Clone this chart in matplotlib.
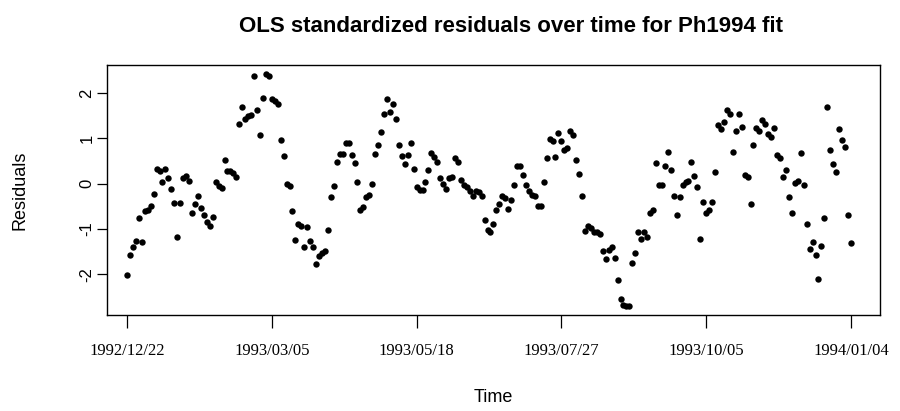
import numpy as np
import matplotlib
matplotlib.use('Agg')
import matplotlib.pyplot as plt

# 标准化残差（按观测顺序读取）
resid = [
    -2.02, -1.58, -1.41, -1.27, -0.76, -1.30, -0.61, -0.58, -0.50, -0.23,
    0.33, 0.29, 0.03, 0.33, 0.13, -0.12, -0.43, -1.17, -0.43, 0.13,
    0.16, 0.07, -0.65, -0.44, -0.28, -0.54, -0.69, -0.84, -0.93, -0.74,
    0.03, -0.06, -0.10, 0.52, 0.27, 0.27, 0.24, 0.15, 1.33, 1.69,
    1.44, 1.50, 1.51, 2.38, 1.63, 1.07, 1.90, 2.42, 2.38, 1.88,
    1.83, 1.76, 0.96, 0.61, 0.00, -0.06, -0.60, -1.24, -0.90, -0.93,
    -1.41, -0.95, -1.26, -1.41, -1.78, -1.61, -1.54, -1.48, -1.02, -0.30,
    -0.06, 0.47, 0.66, 0.66, 0.90, 0.90, 0.64, 0.46, 0.04, -0.59, -0.52, -0.30,
    -0.24, -0.01, 0.66, 0.85, 1.14, 1.53, 1.88, 1.58, 1.76, 1.44,
    0.85, 0.61, 0.44, 0.63, 0.89, 0.33, -0.08, -0.13, -0.15, 0.04, 0.31,
    0.67, 0.58, 0.47, 0.13, 0.00, -0.12, 0.13, 0.15, 0.57, 0.47,
    0.09, -0.02, -0.08, -0.17, -0.27, -0.17, -0.19, -0.28, -0.80,
    -1.02, -1.08, -0.89, -0.59, -0.44, -0.27, -0.32, -0.56, -0.36, -0.04,
    0.40, 0.40, 0.20, -0.02, -0.16, -0.26, -0.28, -0.50, -0.50, 0.03, 0.57, 0.98,
    0.94, 0.59, 1.13, 0.94, 0.74, 0.79, 1.16, 1.07, 0.53, 0.22,
    -0.28, -1.04, -0.93, -0.99, -1.06, -1.06, -1.11, -1.48, -1.67, -1.47, -1.41, -1.64,
    -2.13, -2.54, -2.69, -2.70, -2.70, -1.76, -1.54, -1.06, -1.22, -1.06,
    -1.17, -0.64, -0.58, 0.46, -0.02, -0.02, 0.40, 0.70, 0.30, -0.27, -0.69,
    -0.30, -0.02, 0.03, 0.05, 0.47, 0.18, -0.08, -1.22, -0.41, -0.65,
    -0.58, -0.41, 0.26, 1.29, 1.20, 1.36, 1.62, 1.55, 0.70, 1.16, 1.53,
    1.25, 0.20, 0.15, -0.44, 0.85, 1.24, 1.16, 1.41, 1.31, 1.09,
    1.04, 1.24, 0.64, 0.56, 0.15, 0.31, -0.30, -0.65, 0.01, 0.05, 0.67,
    -0.02, -0.89, -1.45, -1.28, -1.58, -2.10, -1.38, -0.76, 1.70, 0.74,
    0.44, 0.26, 1.22, 0.96, 0.82, -0.70, -1.32,
]
date_labels = ['1992/12/22', '1993/03/05', '1993/05/18',
               '1993/07/27', '1993/10/05', '1994/01/04']
y_ticks = [-2, -1, 0, 1, 2]

n = len(resid)
obs = np.arange(n)

# 绘图区像素位置（参照原图）
left, right, top, bottom = 107, 880, 65, 315
fig = plt.figure(figsize=(9, 4.11), dpi=100)
ax = fig.add_axes([left / 900, 1 - bottom / 411,
                   (right - left) / 900, (bottom - top) / 411])

ax.plot(obs, resid, 'o', color='black', markersize=4.6, markeredgewidth=0)

# 首末观测点距边框的距离（像素）
px = (851 - 127) / (n - 1)
ax.set_xlim(-20 / px, (n - 1) + 29 / px)
ax.margins(y=0.04)

# R 风格的坐标轴
ax.set_xticks(np.linspace(0, n - 1, len(date_labels)))
ax.set_xticklabels(date_labels, family='Liberation Serif', fontsize=12)
ax.set_yticks(y_ticks)
ax.set_yticklabels([str(v) for v in y_ticks], family='Liberation Sans',
                   fontsize=12, rotation=90, va='center')
ax.tick_params(axis='x', direction='out', length=9, width=0.9, pad=11)
ax.tick_params(axis='y', direction='out', length=7, width=0.9, pad=2)
for s in ax.spines.values():
    s.set_linewidth(1.0)

ax.set_xlabel('Time', family='Liberation Sans', fontsize=13, va='center')
ax.xaxis.set_label_coords(0.5, (bottom - 397) / (bottom - top))
ax.set_ylabel('Residuals', family='Liberation Sans', fontsize=13, va='center')
ax.yaxis.set_label_coords((20 - left) / (right - left), 0.5)
fig.suptitle('OLS standardized residuals over time for Ph1994 fit',
             family='Liberation Sans', fontweight='bold', fontsize=16,
             x=511 / 900, y=1 - 27 / 411, va='center')

fig.savefig('out.png', dpi=100)
